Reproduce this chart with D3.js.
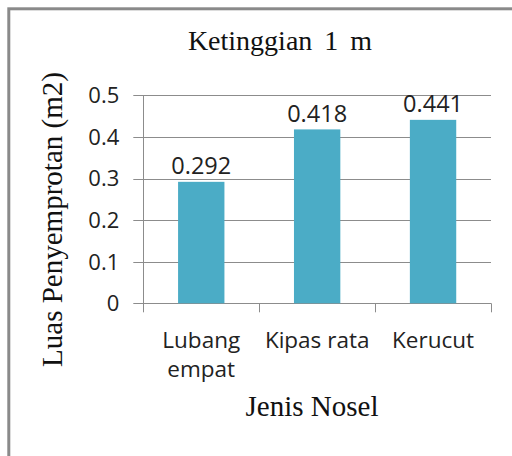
<!DOCTYPE html>
<html>
<head>
<meta charset="utf-8">
<script src="https://cdn.jsdelivr.net/npm/d3@7"></script>
<style>
  html, body { margin: 0; padding: 0; background: #fff; }
  svg { display: block; }
</style>
</head>
<body>
<svg id="chart" width="512" height="456"></svg>
<script>
// Spray-area per nozzle type at 1 m height
const categories = [["Lubang", "empat"], ["Kipas rata"], ["Kerucut"]];
const values = [0.292, 0.418, 0.441];
const yTicks = [0, 0.1, 0.2, 0.3, 0.4, 0.5];
const yTickLabels = ["0", "0.1", "0.2", "0.3", "0.4", "0.5"];
const chartTitle = "Ketinggian 1 m";
const xTitle = "Jenis Nosel";
const yTitle = "Luas Penyemprotan (m2)";

const svg = d3.select("#chart");
const plot = { left: 143.3, right: 491, top: 95.3, bottom: 303.3 };
const gridColor = "#8c8c8c";
const barColor = "#4bacc6";
const sans = "'Open Sans', sans-serif";
const serif = "'Liberation Serif', 'Times New Roman', serif";

// outer frame
svg.append("rect")
  .attr("x", 8.8).attr("y", 8.8)
  .attr("width", 560).attr("height", 500)
  .attr("fill", "none")
  .attr("stroke", "#8a8a8a")
  .attr("stroke-width", 3);

const keys = categories.map(c => c.join(" "));
const x = d3.scaleBand().domain(keys).range([plot.left, plot.right]).padding(0);
const y = d3.scaleLinear().domain([0, 0.5]).range([plot.bottom, plot.top]);

// horizontal gridlines with tick stubs left of the axis
svg.append("g").selectAll("line")
  .data(yTicks)
  .join("line")
  .attr("x1", plot.left - 10).attr("x2", plot.right)
  .attr("y1", d => Math.round(y(d)) + 0.5).attr("y2", d => Math.round(y(d)) + 0.5)
  .attr("stroke", gridColor).attr("stroke-width", 1);

// y tick labels
svg.append("g").selectAll("text")
  .data(yTicks)
  .join("text")
  .attr("x", plot.left - 24)
  .attr("y", d => y(d))
  .attr("dy", "0.36em")
  .attr("text-anchor", "end")
  .attr("font-family", sans)
  .attr("font-size", 22)
  .attr("fill", "#222")
  .text((d, i) => yTickLabels[i]);

// vertical axis line
svg.append("line")
  .attr("x1", Math.round(plot.left) + 0.5).attr("x2", Math.round(plot.left) + 0.5)
  .attr("y1", plot.top).attr("y2", plot.bottom)
  .attr("stroke", gridColor);

// category boundary ticks below the x axis
const bounds = keys.map(k => x(k)).concat([x(keys[keys.length - 1]) + x.bandwidth()]);
svg.append("g").selectAll("line")
  .data(bounds)
  .join("line")
  .attr("x1", d => Math.round(d) + 0.5).attr("x2", d => Math.round(d) + 0.5)
  .attr("y1", plot.bottom).attr("y2", plot.bottom + 9)
  .attr("stroke", gridColor);

// bars
const barW = x.bandwidth() * 0.40;
svg.append("g").selectAll("rect")
  .data(values)
  .join("rect")
  .attr("x", (d, i) => x(keys[i]) + (x.bandwidth() - barW) / 2)
  .attr("y", d => y(d))
  .attr("width", barW)
  .attr("height", d => y(0) - y(d))
  .attr("fill", barColor);

// value labels
svg.append("g").selectAll("text")
  .data(values)
  .join("text")
  .attr("x", (d, i) => x(keys[i]) + x.bandwidth() / 2)
  .attr("y", d => y(d) - 7.5)
  .attr("text-anchor", "middle")
  .attr("font-family", sans)
  .attr("font-size", 23.5)
  .attr("fill", "#222")
  .text(d => d3.format(".3f")(d));

// category labels (wrapped)
const cat = svg.append("g").selectAll("text")
  .data(categories)
  .join("text")
  .attr("x", (d, i) => x(keys[i]) + x.bandwidth() / 2)
  .attr("y", 348)
  .attr("text-anchor", "middle")
  .attr("font-family", sans)
  .attr("font-size", 22.5)
  .attr("fill", "#222");
cat.selectAll("tspan")
  .data(d => d)
  .join("tspan")
  .attr("x", function () { return d3.select(this.parentNode).attr("x"); })
  .attr("dy", (d, i) => i === 0 ? 0 : 29)
  .text(d => d);

// chart title
svg.append("text")
  .attr("x", 280).attr("y", 50)
  .attr("text-anchor", "middle")
  .attr("font-family", serif)
  .attr("font-size", 28)
  .attr("word-spacing", 5)
  .attr("fill", "#111")
  .text(chartTitle);

// x axis title
svg.append("text")
  .attr("x", 312).attr("y", 416)
  .attr("text-anchor", "middle")
  .attr("font-family", serif)
  .attr("font-size", 29)
  .attr("fill", "#111")
  .text(xTitle);

// y axis title
svg.append("text")
  .attr("transform", "translate(62,219.5) rotate(-90)")
  .attr("text-anchor", "middle")
  .attr("font-family", serif)
  .attr("font-size", 29)
  .attr("fill", "#111")
  .text(yTitle);
</script>
</body>
</html>
